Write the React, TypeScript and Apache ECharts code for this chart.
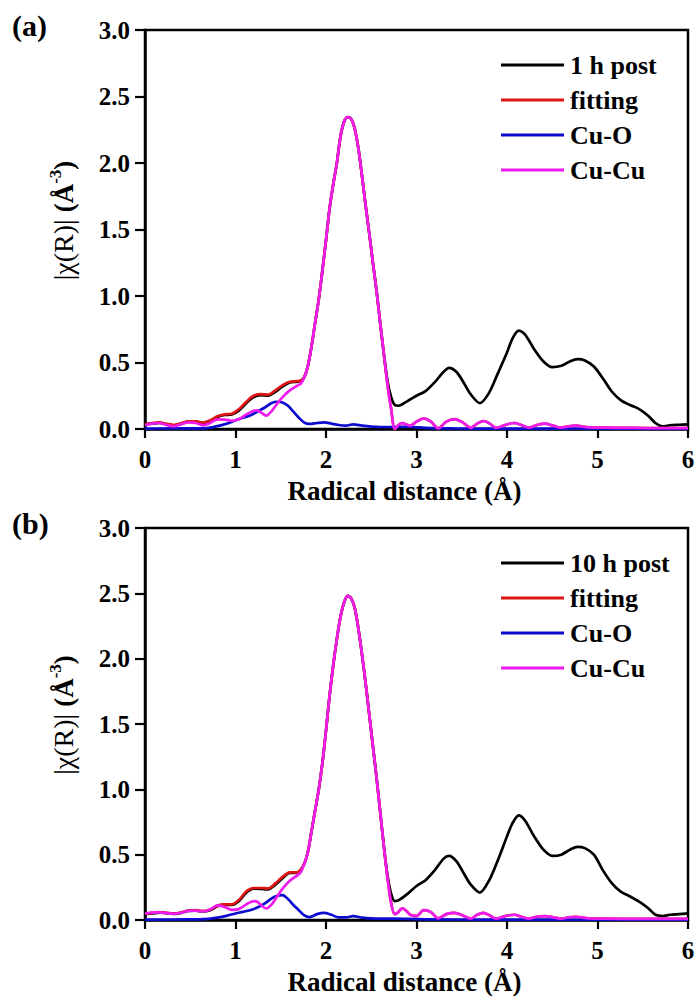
import React, { useEffect, useRef } from "react";
import * as echarts from "echarts";

// ---------- R grids (Å) ----------
const R_LOW = [0, 0.08, 0.16, 0.24, 0.32, 0.4, 0.48, 0.56, 0.64, 0.72, 0.8, 0.88, 0.96, 1.04, 1.12, 1.2, 1.28, 1.36, 1.44, 1.52, 1.6, 1.68, 1.72];
const R_PEAK = [1.76, 1.8, 1.84, 1.88, 1.92, 1.96, 2.0, 2.04, 2.08, 2.12, 2.16, 2.2, 2.24, 2.28, 2.32, 2.36, 2.4, 2.44, 2.48, 2.52, 2.56, 2.6, 2.64];
const R_BLACK_TAIL = [2.68, 2.72, 2.76, 2.8, 2.9, 3.0, 3.1, 3.2, 3.3, 3.36, 3.44, 3.52, 3.6, 3.7, 3.8, 3.9, 4.0, 4.06, 4.13, 4.2, 4.3, 4.4, 4.5, 4.6, 4.7, 4.78, 4.86, 4.96, 5.06, 5.16, 5.26, 5.36, 5.46, 5.56, 5.64, 5.72, 5.8, 5.9, 6.0];
const R_MAG_LOW = [0, 0.08, 0.16, 0.24, 0.32, 0.4, 0.48, 0.56, 0.64, 0.72, 0.8, 0.88, 0.96, 1.04, 1.12, 1.2, 1.24, 1.28, 1.34, 1.4, 1.46, 1.52, 1.6, 1.68, 1.72];
const R_MAG_TAIL = [2.68, 2.72, 2.76, 2.8, 2.84, 2.88, 2.93, 3.0, 3.08, 3.16, 3.24, 3.33, 3.42, 3.51, 3.6, 3.67, 3.74, 3.81, 3.88, 3.98, 4.08, 4.16, 4.24, 4.33, 4.42, 4.51, 4.6, 4.68, 4.76, 4.9, 5.1, 5.4, 5.7, 6.0];
const R_BLUE = [0, 0.3, 0.6, 0.7, 0.8, 0.9, 1.0, 1.08, 1.16, 1.24, 1.32, 1.4, 1.46, 1.52, 1.58, 1.64, 1.7, 1.76, 1.82, 1.9, 1.98, 2.06, 2.14, 2.22, 2.3, 2.4, 2.5, 2.6, 2.75, 2.9, 3.1, 3.4, 4.0, 5.0, 6.0];

// ---------- Panel (a): 1 h post ----------
const A_BLACK_LOW = [0.035, 0.04, 0.045, 0.035, 0.028, 0.04, 0.055, 0.055, 0.045, 0.06, 0.09, 0.105, 0.11, 0.14, 0.195, 0.24, 0.255, 0.25, 0.28, 0.32, 0.35, 0.355, 0.36];
const A_PEAK = [0.39, 0.475, 0.62, 0.8, 0.975, 1.19, 1.42, 1.66, 1.84, 2.0, 2.2, 2.31, 2.345, 2.33, 2.25, 2.1, 1.89, 1.67, 1.46, 1.24, 1.03, 0.79, 0.56];
const A_BLACK_TAIL = [0.36, 0.24, 0.18, 0.175, 0.21, 0.25, 0.285, 0.35, 0.43, 0.46, 0.43, 0.35, 0.26, 0.195, 0.27, 0.42, 0.575, 0.68, 0.74, 0.71, 0.6, 0.51, 0.465, 0.475, 0.51, 0.525, 0.515, 0.47, 0.38, 0.28, 0.215, 0.18, 0.15, 0.1, 0.045, 0.02, 0.028, 0.032, 0.035];
const A_RED_LOW = [0.035, 0.045, 0.05, 0.038, 0.03, 0.042, 0.058, 0.058, 0.048, 0.065, 0.095, 0.11, 0.115, 0.15, 0.205, 0.25, 0.262, 0.258, 0.29, 0.33, 0.355, 0.36, 0.365];
const A_MAG_LOW = [0.028, 0.04, 0.045, 0.03, 0.02, 0.035, 0.05, 0.045, 0.028, 0.045, 0.072, 0.07, 0.062, 0.075, 0.11, 0.137, 0.14, 0.125, 0.1, 0.135, 0.19, 0.24, 0.29, 0.325, 0.34];
const A_MAG_TAIL = [0.33, 0.15, 0.0, 0.03, 0.045, 0.035, 0.025, 0.055, 0.08, 0.055, 0.005, 0.055, 0.075, 0.05, 0.008, 0.04, 0.06, 0.04, 0.008, 0.03, 0.045, 0.03, 0.01, 0.03, 0.04, 0.025, 0.01, 0.02, 0.025, 0.012, 0.01, 0.008, 0.006, 0.006];
const A_BLUE = [0.003, 0.004, 0.004, 0.008, 0.022, 0.04, 0.065, 0.085, 0.102, 0.13, 0.16, 0.195, 0.205, 0.2, 0.175, 0.13, 0.085, 0.048, 0.038, 0.045, 0.05, 0.04, 0.03, 0.025, 0.035, 0.025, 0.018, 0.015, 0.015, 0.017, 0.008, 0.004, 0.003, 0.002, 0.002];

// ---------- Panel (b): 10 h post ----------
const B_BLACK_LOW = [0.045, 0.05, 0.057, 0.052, 0.047, 0.055, 0.07, 0.072, 0.065, 0.075, 0.105, 0.115, 0.115, 0.145, 0.21, 0.24, 0.238, 0.235, 0.27, 0.32, 0.36, 0.36, 0.38];
const B_PEAK = [0.43, 0.52, 0.68, 0.84, 1.0, 1.2, 1.45, 1.72, 1.95, 2.15, 2.32, 2.43, 2.48, 2.46, 2.38, 2.22, 2.02, 1.8, 1.56, 1.32, 1.08, 0.82, 0.56];
const B_BLACK_TAIL = [0.34, 0.2, 0.145, 0.15, 0.2, 0.26, 0.305, 0.38, 0.47, 0.49, 0.45, 0.36, 0.27, 0.21, 0.3, 0.46, 0.64, 0.74, 0.8, 0.76, 0.64, 0.54, 0.49, 0.5, 0.54, 0.56, 0.55, 0.5, 0.38, 0.28, 0.215, 0.18, 0.14, 0.09, 0.04, 0.03, 0.04, 0.045, 0.05];
const B_RED_LOW = [0.048, 0.055, 0.06, 0.055, 0.05, 0.058, 0.072, 0.075, 0.068, 0.08, 0.11, 0.12, 0.12, 0.155, 0.22, 0.245, 0.245, 0.242, 0.28, 0.33, 0.365, 0.365, 0.385];
const B_MAG_LOW = [0.048, 0.057, 0.058, 0.052, 0.047, 0.055, 0.07, 0.072, 0.065, 0.08, 0.112, 0.1, 0.078, 0.085, 0.12, 0.145, 0.14, 0.115, 0.088, 0.12, 0.18, 0.24, 0.3, 0.34, 0.365];
const B_MAG_TAIL = [0.32, 0.13, 0.045, 0.06, 0.09, 0.075, 0.04, 0.03, 0.075, 0.06, 0.012, 0.045, 0.055, 0.035, 0.01, 0.04, 0.055, 0.035, 0.01, 0.03, 0.04, 0.025, 0.01, 0.025, 0.03, 0.02, 0.01, 0.02, 0.025, 0.012, 0.01, 0.008, 0.008, 0.008];
const B_BLUE = [0.003, 0.004, 0.005, 0.008, 0.018, 0.032, 0.05, 0.062, 0.075, 0.095, 0.125, 0.165, 0.185, 0.19, 0.16, 0.115, 0.075, 0.035, 0.022, 0.045, 0.055, 0.04, 0.02, 0.02, 0.03, 0.018, 0.012, 0.01, 0.01, 0.008, 0.005, 0.004, 0.003, 0.002, 0.002];

const X_TICKS = [0, 1, 2, 3, 4, 5, 6];
const Y_TICKS = [0, 0.5, 1.0, 1.5, 2.0, 2.5, 3.0];
const PANEL_LABELS = ["(a)", "(b)"];
const POST_NAMES = ["1 h post", "10 h post"];
const OTHER_NAMES = ["fitting", "Cu-O", "Cu-Cu"];

const FONT = '"Liberation Serif", "Times New Roman", serif';
const COLORS = { data: "#000000", fit: "#e01515", cuo: "#0c0cd0", cucu: "#ee1cee" };

const zip = (xs: number[], ys: number[]) => {
  const n = Math.min(xs.length, ys.length);
  const out: number[][] = [];
  for (let i = 0; i < n; i++) out.push([xs[i], ys[i]]);
  return out;
};

function buildPanel(i: number, top: number, d: any) {
  const grid = {
    left: 145, width: 543, top, height: 399,
    show: true, borderColor: "#000", borderWidth: 2.5, backgroundColor: "transparent",
  };
  const xAxis = {
    gridIndex: i, type: "value", min: X_TICKS[0], max: X_TICKS[X_TICKS.length - 1], interval: 1,
    axisLine: { show: true, onZero: false, lineStyle: { color: "#000", width: 2.5 } },
    axisTick: { show: true, inside: false, length: 9, lineStyle: { color: "#000", width: 2.2 } },
    axisLabel: { fontFamily: FONT, fontWeight: "bold", fontSize: 25, color: "#000", margin: 18 },
    splitLine: { show: false },
    name: "Radical distance (Å)", nameLocation: "middle", nameGap: 48,
    nameTextStyle: { fontFamily: FONT, fontWeight: "bold", fontSize: 27, color: "#000", padding: [0, 24, 0, 0] },
  };
  const yAxis = {
    gridIndex: i, type: "value", min: Y_TICKS[0], max: Y_TICKS[Y_TICKS.length - 1], interval: 0.5,
    axisLine: { show: true, onZero: false, lineStyle: { color: "#000", width: 2.5 } },
    axisTick: { show: true, inside: false, length: 10, lineStyle: { color: "#000", width: 2.2 } },
    axisLabel: {
      fontFamily: FONT, fontWeight: "bold", fontSize: 25, color: "#000", margin: 15,
      formatter: (v: number) => v.toFixed(1),
    },
    splitLine: { show: false },
    name: "{a||χ(R)| }{b|(Å}{s|-3}{b|)}", nameLocation: "middle", nameGap: 68, nameRotate: 90,
    nameTextStyle: {
      padding: [0, 0, 0, 18],
      rich: {
        a: { fontFamily: FONT, fontSize: 28, color: "#000", lineHeight: 30, verticalAlign: "bottom" },
        b: { fontFamily: FONT, fontWeight: "bold", fontSize: 27, color: "#000", lineHeight: 30, verticalAlign: "bottom" },
        s: { fontFamily: FONT, fontWeight: "bold", fontSize: 17, color: "#000", lineHeight: 17, verticalAlign: "top" },
      },
    },
  };
  const common = { type: "line", xAxisIndex: i, yAxisIndex: i, showSymbol: false, symbol: "none", smooth: 0.3, clip: true };
  const series = [
    { ...common, name: POST_NAMES[i], color: COLORS.data, lineStyle: { color: COLORS.data, width: 2.7 },
      data: zip([...R_LOW, ...R_PEAK, ...R_BLACK_TAIL], [...d.blackLow, ...d.peak, ...d.blackTail]) },
    { ...common, name: OTHER_NAMES[0], color: COLORS.fit, lineStyle: { color: COLORS.fit, width: 2.7 },
      data: zip([...R_LOW, ...R_PEAK, ...R_MAG_TAIL], [...d.redLow, ...d.peak, ...d.magTail]) },
    { ...common, name: OTHER_NAMES[1], color: COLORS.cuo, lineStyle: { color: COLORS.cuo, width: 2.7 },
      data: zip(R_BLUE, d.blue) },
    { ...common, name: OTHER_NAMES[2], color: COLORS.cucu, lineStyle: { color: COLORS.cucu, width: 2.7 },
      data: zip([...R_MAG_LOW, ...R_PEAK, ...R_MAG_TAIL], [...d.magLow, ...d.peak, ...d.magTail]) },
  ];
  const legend = {
    left: 501, top: top + 22, orient: "vertical", itemWidth: 63, itemHeight: 3, icon: "rect",
    itemGap: 9, selectedMode: false, padding: 0,
    textStyle: { fontFamily: FONT, fontWeight: "bold", fontSize: 26, color: "#000", lineHeight: 25, padding: [0, 0, 0, 1] },
    data: [POST_NAMES[i], ...OTHER_NAMES],
  };
  const label = {
    type: "text", left: 12, top: top - 20,
    style: { text: PANEL_LABELS[i], fontFamily: FONT, fontWeight: "bold", fontSize: 30, fill: "#000" },
  };
  return { grid, xAxis, yAxis, series, legend, label };
}

export default function App() {
  const ref = useRef<HTMLDivElement>(null);
  useEffect(() => {
    document.body.style.margin = "0";
    if (!ref.current) return;
    const chart = echarts.init(ref.current, undefined, { renderer: "svg" });
    const pa = buildPanel(0, 30, {
      blackLow: A_BLACK_LOW, peak: A_PEAK, blackTail: A_BLACK_TAIL, redLow: A_RED_LOW,
      magLow: A_MAG_LOW, magTail: A_MAG_TAIL, blue: A_BLUE,
    });
    const pb = buildPanel(1, 528, {
      blackLow: B_BLACK_LOW, peak: B_PEAK, blackTail: B_BLACK_TAIL, redLow: B_RED_LOW,
      magLow: B_MAG_LOW, magTail: B_MAG_TAIL, blue: B_BLUE,
    });
    chart.setOption({
      animation: false,
      backgroundColor: "#ffffff",
      grid: [pa.grid, pb.grid],
      xAxis: [pa.xAxis, pb.xAxis],
      yAxis: [pa.yAxis, pb.yAxis],
      legend: [pa.legend, pb.legend],
      series: [...pa.series, ...pb.series],
      graphic: [pa.label, pb.label],
    });
    return () => chart.dispose();
  }, []);
  return <div ref={ref} style={{ width: 700, height: 996 }} />;
}
